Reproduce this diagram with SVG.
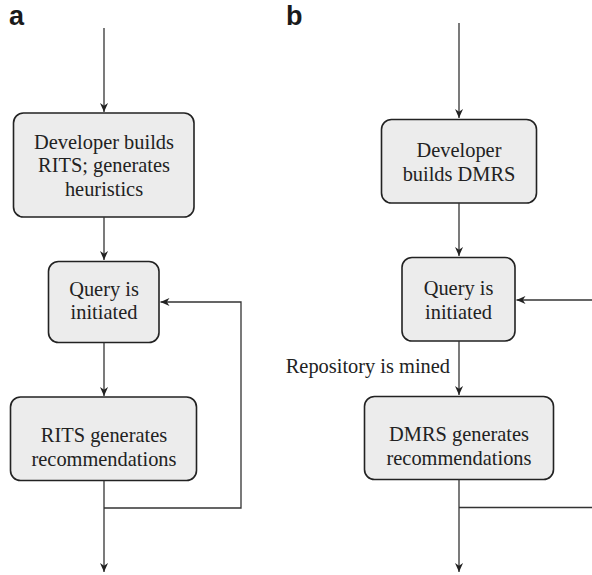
<svg xmlns="http://www.w3.org/2000/svg" width="592" height="575" viewBox="0 0 592 575">
  <style>
    .box { fill: #ececec; stroke: #222; stroke-width: 1.6; }
    .lbl { font-family: 'Liberation Serif', serif; font-size: 20.4px; fill: #222; text-anchor: middle; }
    .side { font-family: 'Liberation Serif', serif; font-size: 20.4px; fill: #222; text-anchor: end; }
    .panel { font-family: 'Liberation Sans', sans-serif; font-size: 27px; font-weight: bold; fill: #1a1a1a; }
    .wire { fill: none; stroke: #333; stroke-width: 1.3; }
    .arrow { fill: none; stroke: #333; stroke-width: 1.3; marker-end: url(#tip); }
  </style>
  <defs>
    <marker id="tip" markerUnits="userSpaceOnUse" viewBox="0 0 10 10" refX="10" refY="5" markerWidth="10" markerHeight="9" orient="auto">
      <path d="M0,0.5 L10,5 L0,9.5 L3,5 Z" fill="#222"/>
    </marker>
  </defs>

  <!-- panel letters -->
  <text class="panel" x="9" y="25">a</text>
  <text class="panel" x="286" y="25">b</text>

  <!-- panel a nodes -->
  <g id="a-build">
    <rect class="box" x="13.5" y="113" width="180.5" height="104" rx="10"/>
    <text class="lbl" x="104" y="148.5">Developer builds</text>
    <text class="lbl" x="104" y="172">RITS; generates</text>
    <text class="lbl" x="104" y="195.5">heuristics</text>
  </g>
  <g id="a-query">
    <rect class="box" x="48.5" y="261.5" width="110.5" height="81" rx="10"/>
    <text class="lbl" x="104" y="296">Query is</text>
    <text class="lbl" x="104" y="319">initiated</text>
  </g>
  <g id="a-recommend">
    <rect class="box" x="10.5" y="397" width="186" height="83.5" rx="10"/>
    <text class="lbl" x="104" y="442">RITS generates</text>
    <text class="lbl" x="104" y="465.5">recommendations</text>
  </g>

  <!-- panel b nodes -->
  <g id="b-build">
    <rect class="box" x="381.5" y="119.5" width="155" height="83.5" rx="10"/>
    <text class="lbl" x="459" y="156.5">Developer</text>
    <text class="lbl" x="459" y="181">builds DMRS</text>
  </g>
  <g id="b-query">
    <rect class="box" x="402" y="257.5" width="113" height="83.5" rx="10"/>
    <text class="lbl" x="458.5" y="295">Query is</text>
    <text class="lbl" x="458.5" y="318.5">initiated</text>
  </g>
  <g id="b-recommend">
    <rect class="box" x="364.5" y="396.5" width="189" height="83" rx="10"/>
    <text class="lbl" x="459" y="440.5">DMRS generates</text>
    <text class="lbl" x="459" y="465">recommendations</text>
  </g>

  <!-- connectors -->
  <g id="connectors">
    <!-- panel a -->
    <path class="arrow" d="M104,28 V112"/>
    <path class="arrow" d="M104,217 V260"/>
    <path class="arrow" d="M104,342.5 V396"/>
    <path class="arrow" d="M104,480.5 V572"/>
    <path class="arrow" d="M104,508 H241 V302 H160.5"/>
    <!-- panel b -->
    <path class="arrow" d="M459,23 V118"/>
    <path class="arrow" d="M459,203 V256"/>
    <path class="arrow" d="M459,341 V395"/>
    <path class="arrow" d="M592,300 H516.5"/>
    <path class="arrow" d="M459,479.5 V572"/>
    <path class="wire" d="M459,507.5 H592"/>
    <text class="side" x="450" y="373">Repository is mined</text>
  </g>
</svg>
